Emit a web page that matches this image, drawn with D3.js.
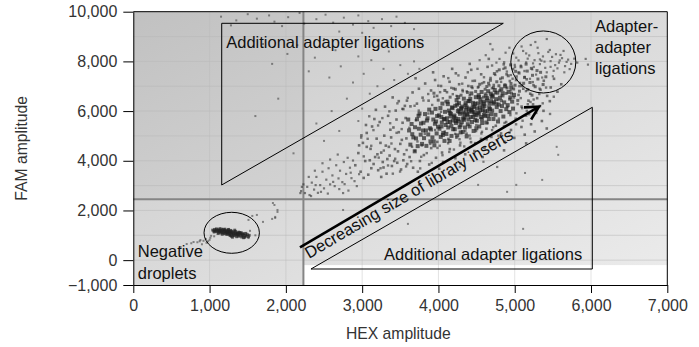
<!DOCTYPE html>
<html>
<head>
<meta charset="utf-8">
<script src="https://cdn.jsdelivr.net/npm/d3@7"></script>
<style>
  body { margin: 0; background: #fff; }
  svg { display: block; font-family: "Liberation Sans", Arial, sans-serif; }
</style>
</head>
<body>
<div id="chart"></div>
<script>
// ticks and grid
const hexTicks = [0, 1000, 2000, 3000, 4000, 5000, 6000, 7000];
const famTicks = [-1000, 0, 2000, 4000, 6000, 8000, 10000];
const hexGrid = [1000, 2000, 3000, 4000, 5000, 6000];
const famGrid = [0, 1000, 2000, 3000, 4000, 5000, 6000, 7000, 8000, 9000];

// threshold lines
const hexThreshold = 2230;
const famThreshold = 2450;

// droplets (HEX, FAM)
const coreDroplets = [
  [3615,5220],[3632,4650],[3648,5480],[3671,4940],[3689,4380],[3604,5660],[3657,5070],[3693,5350],
  [3706,4900],[3719,5670],[3728,4590],[3744,5290],[3752,5900],[3767,5050],[3771,5500],[3785,4680],[3798,5220],[3739,5810],
  [3803,5530],[3811,4910],[3824,5880],[3836,5220],[3842,4600],[3857,5710],[3866,5060],[3879,6060],[3888,5310],[3895,4780],[3849,5620],
  [3902,5260],[3915,5940],[3921,4940],[3933,5660],[3947,4620],[3954,5490],[3961,6090],[3976,5100],[3983,5800],[3994,5370],[3939,4780],[3968,5580],
  [4007,5830],[4013,5290],[4026,6120],[4031,4960],[4044,5540],[4052,6300],[4063,5120],[4071,5670],[4079,4800],[4086,5970],[4095,5440],[4038,5760],[4058,5040],
  [4104,5080],[4111,5710],[4123,6280],[4129,5340],[4138,6020],[4146,4800],[4152,5560],[4164,5890],[4171,5000],[4177,6150],[4186,5620],[4193,5270],[4118,6380],[4158,5790],
  [4203,5760],[4214,5270],[4221,6210],[4230,5520],[4238,6440],[4246,5020],[4255,6000],[4262,5680],[4269,6320],[4277,5350],[4284,5890],[4291,5140],[4298,6120],[4226,5600],[4259,6560],
  [4306,5550],[4311,6180],[4319,5160],[4327,5940],[4333,6500],[4341,5740],[4348,5340],[4356,6320],[4362,6050],[4370,4980],[4377,5830],[4385,5470],[4392,6410],[4399,5980],[4338,5650],
  [4402,6100],[4409,5380],[4417,6490],[4424,5760],[4431,6710],[4440,5560],[4446,5970],[4453,6330],[4461,5200],[4468,6180],[4476,5860],[4483,5640],[4490,6560],[4497,5310],[4435,6020],
  [4504,5610],[4512,6310],[4519,5940],[4527,6640],[4535,5380],[4543,6150],[4549,6480],[4558,5760],[4566,6770],[4573,5520],[4581,6040],[4589,6380],[4596,5850],[4531,6560],
  [4603,6190],[4611,5800],[4620,6620],[4628,5540],[4636,6430],[4645,6000],[4652,6800],[4661,5680],[4669,6310],[4677,6080],[4686,6700],[4694,5870],
  [4704,6020],[4713,6620],[4721,5680],[4730,6350],[4738,6850],[4747,5850],[4755,6480],[4764,6160],[4772,6740],[4781,5580],[4790,6260],
  [4806,6540],[4815,6000],[4824,6880],[4833,6200],[4842,6720],[4851,5780],[4862,6350],[4874,7000],[4889,6080],
  [4908,6240],[4919,6770],[4931,5960],[4943,6550],[4955,6960],[4966,6380],[4978,6100],[4991,6650],
  [4150,5930],[4185,6120],[4210,5820],[4245,6260],[4275,5960],[4300,6090],[4322,5700],[4355,6230],[4380,5880],[4405,6400],
  [4430,6050],[4455,5770],[4480,6290],[4505,6110],[4530,5900],[4555,6340],[4580,6200],[4610,5990],[4640,6520],[4665,6150],
  [4690,6400],[4120,5560],[4170,5410],[4225,5700],[4290,5430],[4340,5880],[4395,5660],[4450,6160],[4500,5830],[4550,6030],
  [4600,6300],[4650,5820],[4700,6570],[4720,6300],[4260,5590],[4370,6150],[4470,5950],[4570,5680],[4080,5680],[4040,5380]
];

const upperDroplets = [
  [4720,6950],[4765,7180],[4804,6820],[4838,7340],[4872,7060],[4915,7420],[4951,7110],[4986,6890],[5021,7260],[5057,7530],
  [5093,7020],[5128,7350],[5164,7610],[5199,7150],[5233,7440],[5268,6980],[5304,7290],[5339,7560],[5372,7070],[5408,7380],
  [4745,6740],[4793,7020],[4846,6610],[4899,6930],[4958,6720],[5004,7040],[5062,6800],[5117,7120],[5171,6860],[5226,6640],
  [4681,7240],[4733,7510],[4797,7660],[4874,7740],[4946,7860],[5012,7600],[5083,7780],[5149,7890],[5218,7720],[5292,7630],
  [4612,6880],[4657,7120],[4589,6560],[4634,6990],[4702,6650],[4767,6300],[4826,6420],[4887,6710],[4934,6480],[5040,6430],
  [4380,6750],[4436,6980],[4488,6790],[4541,7080],[4296,6640],[4221,6880],[4153,6560],[4084,6830],[3997,6440],[3941,6720]
];

const haloDroplets = [
  [3072,4885],[3148,5233],[3217,4127],[3265,5718],[3339,3812],[3384,4695],[3451,5124],[3497,3566],[3526,6088],[3583,4433],
  [3619,5327],[3642,3981],[3687,6214],[3725,4776],[3761,3694],[3803,6427],[3847,4308],[3868,5902],[3912,3915],[3944,6583],
  [3987,4517],[4022,6761],[4053,4224],[4091,6389],[4127,4703],[4168,6934],[4203,4452],[4237,6612],[4276,4869],[4312,7103],
  [4338,4578],[4371,6795],[4409,5016],[4447,7214],[4481,4711],[4526,6983],[4563,5098],[4597,7362],[4632,4862],[4668,7037],
  [4703,5234],[4745,7458],[4786,5011],[4821,7176],[4859,5387],[4897,7590],[4934,5142],[4972,7303],[5018,5468],[5061,7002],
  [5103,5611],[5147,6804],[5189,5873],[5236,7166],[5278,6053],[5322,6687],[5367,6312],[5411,6946],[5463,5884],[5512,6578],
  [3284,4412],[3367,5511],[3433,4083],[3518,5276],[3576,3772],[3654,4562],[3703,5633],[3774,4161],[3821,5086],[3893,4679],
  [3956,5238],[4017,4605],[4083,5178],[4142,4356],[4219,5084],[4288,4726],[4353,5202],[4418,4896],[4496,5438],[4571,5167],
  [4644,5519],[4718,5352],[4792,5697],[4866,5521],[4943,5836],[5022,5911],[5097,6118],[5171,6277],[5248,6466],[5326,6904],
  [3866,6687],[3998,7021],[4129,7327],[4262,7436],[4385,7562],[4512,7701],[4703,7834],[4861,7962],[5003,7775],[5128,7612],
  [4058,6516],[4188,6681],[4316,6853],[4446,6927],[4573,7118],[4701,6918],[4827,6627],[4948,6841],[5079,6523],[5207,6368],
  [3742,6021],[3918,6247],[4034,5971],[4257,6073],[4409,6631],[4617,6711],[4788,6447],[4905,6168],[5038,6281],[5158,6009],
  [3357,5989],[3462,6311],[3598,6532],[3209,5422],[3119,4603],[3021,4177],[2987,4934],[3093,5791],[3241,3699],[3402,3481]
];

const bodyDroplets = [
  [2910,3820],[2950,4310],[2980,3560],[3010,4720],[3040,3990],[3060,5120],[3080,3440],[3110,4480],[3130,5380],[3150,3870],
  [3170,4150],[3190,4890],[3210,3620],[3230,5560],[3250,4330],[3270,3950],[3290,5010],[3310,4610],[3320,3480],[3340,5810],
  [3360,4210],[3380,4940],[3390,3790],[3410,5340],[3430,4470],[3440,6020],[3460,3920],[3480,5150],[3500,4680],[3510,3650],
  [3530,5530],[3550,4260],[3560,6210],[3580,4900],[3590,3870],[3020,3310],[3100,4020],[3200,4260],[3280,3730],[3350,4560],
  [3420,3990],[3470,4380],[3540,4020],[3570,5720],[3160,5680],[3060,4560],[2990,5020],[3240,4720],[3330,4070],[3450,5660],
  [3520,4840],[3370,5250],[3120,3700],[3300,6180],[3480,6400],[2960,4620],[3050,5440],[3180,6050],[3400,6550],[3250,3350],
  [3622,4150],[3668,3720],[3691,4400],[3757,3990],[3783,4620],[3809,4230],[3879,3850],[3905,4510],[3968,4120],[3985,4760],
  [4047,4330],[4062,3950],[4131,4880],[4149,4470],[4222,4100],[4236,4930],[4283,4620],[4351,4260],[4368,5090],[4427,4750],
  [4471,4390],[4492,5200],[4558,4880],[4603,4520],[4629,5290],[4694,4960],[4733,4650],[4752,5410],[4821,5100],[4868,4760],
  [4887,5560],[4951,5240],[4994,4920],[5013,5690],[5088,5360],[5131,5050],[5149,5820],[5214,5470],[5262,5180],[5281,5930],
  [5356,5600],[5377,6010],[3730,3560],[4010,3680],[4290,3900],[4580,4150],[4860,4420],[5150,4700],[5420,5300],
  [3540,6080],[3587,6420],[3633,6190],[3661,6750],[3718,6300],[3744,6900],[3792,6540],[3826,7110],[3871,6420],[3903,6830],
  [3956,7250],[3982,6610],[4034,7010],[4068,7400],[4112,6760],[4146,7180],[4197,6910],[4228,7520],[4271,7080],[4319,6800],
  [4355,7350],[4392,7010],[4430,7660],[4477,7220],[4518,6950],[4560,7480],[4597,7160],[4644,7780],[4683,7330],[4725,7050],
  [4767,7600],[4811,7300],[4856,7880],[4893,7480],[4936,7210],[4978,7690],[5024,7390],[5069,7130],[5112,6900],[5157,7280],
  [5203,6700],[5246,7040],[5294,6520],[5338,6860],[5381,7220],[5425,6610],[5472,6950],[5515,7300],[5560,6780],[5610,7080],
  [3700,7320],[3930,7560],[4180,7700],[4410,7900],[4660,8100],[5050,6650],[5180,6420],[5090,6180],[4990,6550],[5240,6270],
  [5330,6200],[5460,6400]
];

const tailDroplets = [
  [2250,2700],[2280,2950],[2310,2620],[2340,3120],[2370,2840],[2400,3350],[2420,2710],[2450,3020],[2480,3560],[2500,2890],
  [2530,3240],[2560,3700],[2580,3050],[2610,3410],[2640,2980],[2660,3820],[2690,3290],[2710,3600],[2740,3140],[2760,3950],
  [2790,3470],[2810,4120],[2840,3720],[2860,3300],[2880,4010],[2330,2580],[2390,3020],[2460,2750],[2550,2680],[2620,3150],
  [2700,2860],[2770,3060],[2850,3520],[2900,3180],[2680,4250],[2580,4050],[2480,3900],[2380,3600],[2300,3350],[2200,2780],
  [2230,3050],[2750,2700],[2960,3460],[2930,2980],[2820,2800],[2210,2950],[2190,2700],[4280,3750],[4770,3750],[4590,3960]
];

const adapterDroplets = [
  [5020,8150],[5080,7830],[5110,8420],[5150,7960],[5190,8240],[5230,7680],[5260,8050],[5300,8550],[5330,7890],[5370,8200],
  [5400,7740],[5440,8380],[5470,8010],[5510,7620],[5540,8290],[5580,7950],[5620,8130],[5660,7810],[5700,8070],[5740,7900],
  [5050,7560],[5130,7380],[5210,8660],[5280,7470],[5350,8030],[5420,7560],[5490,8180],[5560,7720],[5640,8420],[5720,7690],
  [5000,7860],[5170,8110],[5240,7920],[5310,8330],[5390,7990],[5460,8460],[5530,7850],[5600,8260],[5680,7980],[5780,8110],
  [4980,8320],[5090,8600],[5200,7300],[5360,7350],[5500,7400],[5650,7560],[5820,7950],[5270,8780],[5420,8900],[5150,8320],
  [5050,8040],[5590,8040],[5330,8080],[5250,7780],[5470,7780],
  [4620,8250],[4710,8480],[4800,8100],[4880,8350],[4760,7950],[4680,8700],[4930,8550],[4540,8050],[4850,7700],[4950,7450],
  [5930,8100],[5960,7870]
];

const sparseDroplets = [
  [1150,9800],[1350,9650],[1500,9900],[1620,9720],[1780,9850],[1850,9600],[2030,9780],[2180,9950],[2240,9520],[2400,9700],
  [2520,9880],[2620,9560],[2760,9760],[2880,9480],[2950,9850],[3080,9620],[3150,9350],[3260,9700],[3380,9420],[3450,9800],
  [3560,9550],[3680,9300],[1950,9420],[1280,9450],[2700,9200],[3000,9150],
  [1700,8700],[1820,7900],[2020,8300],[2150,8650],[2300,7600],[2380,8150],[2500,8900],[2570,7350],[2650,8450],[2720,7800],
  [2800,8700],[2880,7150],[2950,8200],[3020,7500],[3120,8050],[3200,7000],[3280,7700],[3350,8400],[3420,7250],[3500,7850],
  [3600,7500],[3680,8000],[3750,7700],[3100,6700],[2800,6500],[2600,6000],[3000,6100],[2400,5500],[2700,5200],[2500,4800],
  [2950,5600],[1900,6500],[1600,5800],[2100,4300],
  [2750,2020],[3600,1460],[5110,1260],[4520,3030],[4900,2750],[5135,3510],[5360,3230],[5020,3030],[5550,4560],[5570,4240]
];

const negativeDroplets = [
  [1040,1210],[1055,1170],[1065,1240],[1075,1190],[1085,1150],[1095,1220],[1060,1130],[1090,1260],
  [1105,1180],[1115,1120],[1120,1230],[1130,1160],[1140,1090],[1145,1200],[1155,1140],[1160,1250],[1170,1100],[1175,1180],
  [1185,1130],[1190,1060],[1195,1210],[1110,1070],[1135,1270],[1165,1040],[1150,1170],[1125,1190],[1180,1230],
  [1205,1150],[1210,1080],[1220,1190],[1225,1030],[1235,1120],[1240,1220],[1250,1060],[1255,1160],[1265,1100],[1270,990],
  [1275,1200],[1285,1130],[1290,1040],[1295,1170],[1215,1120],[1230,1080],[1245,1140],[1260,1020],[1280,1080],[1200,1250],
  [1250,1240],[1285,960],[1230,1170],[1265,1150],
  [1305,1100],[1310,1010],[1320,1140],[1325,980],[1335,1060],[1340,1160],[1350,1020],[1355,940],[1365,1090],[1370,1000],
  [1380,1130],[1385,960],[1390,1050],[1395,1110],[1315,1060],[1345,1100],[1360,1050],[1375,1060],[1330,1210],[1300,920],
  [1405,1000],[1410,1070],[1420,930],[1430,1020],[1440,980],[1450,1060],[1460,920],[1470,1000],[1480,960],[1495,1030],
  [1510,940],[1415,1110],[1445,900],[1475,1080],[1520,1000],[1435,1060]
];

const negativeStrays = [
  [620,530],[700,650],[760,680],[790,730],[840,720],[880,810],[920,780],[950,850],[980,760],[1010,900],
  [1000,820],[900,640],[960,700],[1020,980],[870,760],[1060,960],[1510,890],[1530,1180],[1510,1620],[1560,1780],
  [1620,1820],[1700,1540],[1820,1660],[1860,1740],[1890,2020],[1850,2220],[1830,2300],[1890,1940],[1860,1700],[1600,1000]
];

// annotations, in data units
const upperTriangle = [[1159, 3025], [1159, 9533], [4850, 9533]];
const lowerTriangle = [[2329, -356], [6017, -356], [6017, 6152]];
const trendArrow = [[2185, 517], [5318, 6176]];
const gateEllipses = [
  { hex: 5375, fam: 7976, rHex: 426, rFam: 1248 },
  { hex: 1290, fam: 1101, rHex: 363, rFam: 825 }
];
const regionLabels = [
  { hex: 1218, fam: 8531, lines: ["Additional adapter ligations"] },
  { hex: 3287, fam: 0, lines: ["Additional adapter ligations"] },
  { hex: 6052, fam: 9183, lines: ["Adapter-", "adapter", "ligations"] },
  { hex: 58, fam: 107, lines: ["Negative", "droplets"] }
];
const arrowLabel = { hex: 2303, fam: 46, text: "Decreasing size of library inserts" };

const W = 699, H = 347;
const margin = { top: 11.7, right: 31.7, bottom: 62, left: 133.3 };

const x = d3.scaleLinear().domain([0, 7000]).range([margin.left, W - margin.right]);
const y = d3.scaleLinear().domain([-1000, 10000]).range([H - margin.bottom, margin.top]);

const svg = d3.select('#chart').append('svg')
  .attr('width', W).attr('height', H);

const defs = svg.append('defs');
const grad = defs.append('linearGradient').attr('id', 'bg')
  .attr('x1', 0).attr('y1', 0).attr('x2', 1).attr('y2', 1);
grad.append('stop').attr('offset', '0%').attr('stop-color', '#c8c8c8');
grad.append('stop').attr('offset', '100%').attr('stop-color', '#ececec');

// plot background
svg.append('rect')
  .attr('x', x(0)).attr('y', y(10000))
  .attr('width', x(7000) - x(0)).attr('height', y(-1000) - y(10000))
  .attr('fill', 'url(#bg)');

// upper-left quadrant is a bit darker
svg.append('rect')
  .attr('x', x(0)).attr('y', y(10000))
  .attr('width', x(hexThreshold) - x(0)).attr('height', y(famThreshold) - y(10000))
  .attr('fill', '#000').attr('opacity', 0.03);

// white strip at the bottom of the lower-right quadrant
svg.append('rect')
  .attr('x', x(hexThreshold)).attr('y', y(-200))
  .attr('width', x(7000) - x(hexThreshold)).attr('height', y(-1000) - y(-200))
  .attr('fill', '#fff');

// grid
svg.append('g').selectAll('line').data(famGrid).join('line')
  .attr('x1', x(0)).attr('x2', x(7000))
  .attr('y1', d => y(d)).attr('y2', d => y(d))
  .attr('stroke', '#b8b8b8').attr('stroke-opacity', 0.5);
svg.append('g').selectAll('line').data(hexGrid).join('line')
  .attr('x1', d => x(d)).attr('x2', d => x(d))
  .attr('y1', y(10000)).attr('y2', y(-1000))
  .attr('stroke', '#b8b8b8').attr('stroke-opacity', 0.4);

// thresholds
svg.append('line')
  .attr('x1', x(hexThreshold)).attr('x2', x(hexThreshold))
  .attr('y1', y(10000)).attr('y2', y(-1000))
  .attr('stroke', '#858585').attr('stroke-width', 2);
svg.append('line')
  .attr('x1', x(0)).attr('x2', x(7000))
  .attr('y1', y(famThreshold)).attr('y2', y(famThreshold))
  .attr('stroke', '#858585').attr('stroke-width', 2);

// droplets
function drawDots(data, size, color, opacity) {
  svg.append('g').selectAll('rect').data(data).join('rect')
    .attr('x', d => x(d[0]) - size / 2)
    .attr('y', d => y(d[1]) - size / 2)
    .attr('width', size).attr('height', size)
    .attr('fill', color).attr('fill-opacity', opacity);
}
drawDots(sparseDroplets, 2, '#444', 0.6);
drawDots(negativeStrays, 2, '#444', 0.6);
drawDots(tailDroplets, 2.2, '#333', 0.6);
drawDots(adapterDroplets, 2.2, '#333', 0.6);
drawDots(haloDroplets, 2.4, '#2a2a2a', 0.58);
drawDots(bodyDroplets, 2.6, '#2a2a2a', 0.62);
drawDots(upperDroplets, 3, '#222', 0.62);
drawDots(coreDroplets, 4, '#1e1e1e', 0.68);
drawDots(negativeDroplets, 2.8, '#222', 0.72);

// annotation shapes
const line = d3.line().x(d => x(d[0])).y(d => y(d[1]));
svg.append('path').attr('d', line(upperTriangle) + 'Z')
  .attr('fill', 'none').attr('stroke', '#000').attr('stroke-width', 1);
svg.append('path').attr('d', line(lowerTriangle) + 'Z')
  .attr('fill', 'none').attr('stroke', '#000').attr('stroke-width', 1);

svg.append('g').selectAll('ellipse').data(gateEllipses).join('ellipse')
  .attr('cx', d => x(d.hex)).attr('cy', d => y(d.fam))
  .attr('rx', d => x(d.hex + d.rHex) - x(d.hex))
  .attr('ry', d => y(d.fam) - y(d.fam + d.rFam))
  .attr('fill', 'none').attr('stroke', '#000').attr('stroke-width', 1);

// arrow
const p0 = [x(trendArrow[0][0]), y(trendArrow[0][1])];
const p1 = [x(trendArrow[1][0]), y(trendArrow[1][1])];
const ang = Math.atan2(p1[1] - p0[1], p1[0] - p0[0]);
const headLen = 15, headAng = 28 * Math.PI / 180;
const arm = a => [p1[0] - headLen * Math.cos(ang + a), p1[1] - headLen * Math.sin(ang + a)];
svg.append('line')
  .attr('x1', p0[0]).attr('y1', p0[1]).attr('x2', p1[0] - 1.5 * Math.cos(ang)).attr('y2', p1[1] - 1.5 * Math.sin(ang))
  .attr('stroke', '#000').attr('stroke-width', 2.6);
svg.append('path')
  .attr('d', d3.line()([arm(headAng), p1, arm(-headAng)]))
  .attr('fill', 'none').attr('stroke', '#000').attr('stroke-width', 2.6)
  .attr('stroke-linejoin', 'miter');

// labels
const textG = svg.append('g').attr('font-size', 16.5).attr('fill', '#111');
regionLabels.forEach(l => {
  const t = textG.append('text').attr('x', x(l.hex)).attr('y', y(l.fam));
  l.lines.forEach((s, i) => {
    t.append('tspan').attr('x', x(l.hex)).attr('dy', i === 0 ? 0 : '1.28em').text(s);
  });
});
textG.append('text')
  .attr('transform', `translate(${x(arrowLabel.hex)},${y(arrowLabel.fam)}) rotate(${ang * 180 / Math.PI})`)
  .text(arrowLabel.text);

// axes
const fmt = d3.format(',');
const xAxis = svg.append('g').attr('transform', `translate(0,${y(-1000)})`)
  .call(d3.axisBottom(x).tickValues(hexTicks).tickFormat(fmt).tickSize(8).tickSizeOuter(0).tickPadding(7));
const yAxis = svg.append('g').attr('transform', `translate(${x(0)},0)`)
  .call(d3.axisLeft(y).tickValues(famTicks).tickFormat(fmt).tickSize(10).tickSizeOuter(0).tickPadding(6));
[xAxis, yAxis].forEach(a => {
  a.selectAll('text').attr('font-size', 16).attr('fill', '#333')
    .attr('font-family', '"Liberation Sans", Arial, sans-serif');
  a.selectAll('line, path').attr('stroke', '#000');
});

// frame top and right
svg.append('path')
  .attr('d', `M${x(0)},${y(10000)}H${x(7000)}V${y(-1000)}`)
  .attr('fill', 'none').attr('stroke', '#000');

svg.append('text')
  .attr('x', (x(0) + x(7000)) / 2 - 2).attr('y', 339)
  .attr('text-anchor', 'middle').attr('font-size', 15.7).attr('fill', '#333')
  .text('HEX amplitude');
svg.append('text')
  .attr('transform', `translate(27,${(y(10000) + y(-1000)) / 2}) rotate(-90)`)
  .attr('text-anchor', 'middle').attr('font-size', 15.7).attr('fill', '#333')
  .text('FAM amplitude');
</script>
</body>
</html>
